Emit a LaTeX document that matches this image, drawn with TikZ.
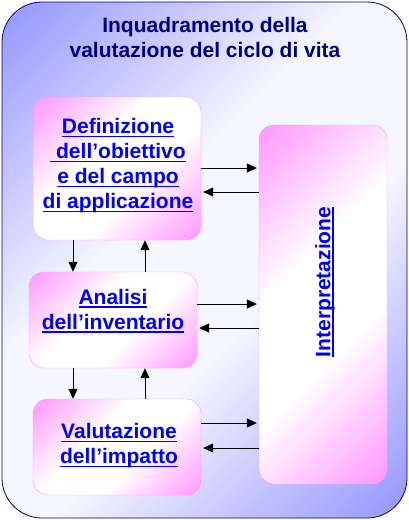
\documentclass[tikz,border=0pt]{standalone}
\usepackage{fontspec}
\setmainfont{Liberation Sans}
\usepackage{xcolor}
\usetikzlibrary{arrows.meta}

\definecolor{framblue}{RGB}{148,148,255}
\definecolor{framwhite}{RGB}{246,246,255}
\definecolor{boxpink}{RGB}{255,150,255}
\definecolor{navy}{RGB}{0,0,128}
\definecolor{linkblue}{RGB}{0,0,255}
\pgfdeclareverticalshading{framdiag}{100bp}{color(0bp)=(framblue); color(14.6bp)=(framblue);
  color(42bp)=(framwhite); color(58bp)=(framwhite); color(85.4bp)=(framblue); color(100bp)=(framblue)}
\pgfdeclareverticalshading{pinkdiag}{100bp}{color(0bp)=(boxpink); color(14.6bp)=(boxpink);
  color(41bp)=(white); color(59bp)=(white); color(85.4bp)=(boxpink); color(100bp)=(boxpink)}
\newcommand{\ulin}[1]{{\sbox0{#1}\rlap{\rule[-3.5pt]{\wd0}{1.8pt}}\usebox0}}

\begin{document}
\begin{tikzpicture}[x=1pt, y=-1pt,
  stage/.style={draw=boxpink, rounded corners=15pt, shading=pinkdiag, shading angle=45,
    minimum width=168pt, inner sep=0pt},
  stagetext/.style={text=linkblue, font=\fontsize{21}{25}\selectfont\bfseries, align=center},
  flow/.style={-{Triangle[length=10pt,width=9pt]}, line width=0.8pt, shorten >=2pt}]
\useasboundingbox (0,0) rectangle (409,520);

% Outer frame
\draw[navy, line width=0.8pt, rounded corners=40pt, shading=framdiag, shading angle=45]
  (2,2) rectangle (407,518);
\node[text=navy, font=\fontsize{21}{25}\selectfont\bfseries, align=center] (title) at (205,37)
  {Inquadramento della\\valutazione del ciclo di vita};

% Phases
\node[stage, minimum height=143pt] (def) at (117,168.5) {};
\node[stage, minimum height=96pt] (ana) at (113,320) {};
\node[stage, minimum height=96pt] (val) at (117,447) {};
\node[stage, minimum width=128pt, minimum height=359pt] (interp) at (323,304.5) {};

\node[stagetext] (deftxt) at (118,166) {\ulin{Definizione}\\\ulin{ dell'obiettivo}\\\ulin{e del campo}\\\ulin{di applicazione}};
\node[stagetext] (anatxt) at (113,311) {\ulin{Analisi}\\\ulin{dell'inventario}};
\node[stagetext] (valtxt) at (119,446) {\ulin{Valutazione}\\\ulin{dell'impatto}};
\node[stagetext, rotate=90] (interptxt) at (325,282) {\ulin{Interpretazione}};

% Links to the interpretation
\draw[flow] (def.east |- 0,168) -- (interp.west |- 0,168);
\draw[flow] (interp.west |- 0,192) -- (def.east |- 0,192);
\draw[flow] (ana.east |- 0,304) -- (interp.west |- 0,304);
\draw[flow] (interp.west |- 0,328) -- (ana.east |- 0,328);
\draw[flow] (val.east |- 0,423) -- (interp.west |- 0,423);
\draw[flow] (interp.west |- 0,448) -- (val.east |- 0,448);

% Links between phases
\draw[flow, shorten >=0pt] (def.south -| 73,0) -- (ana.north -| 73,0);
\draw[flow, shorten >=0pt] (ana.north -| 145,0) -- (def.south -| 145,0);
\draw[flow, shorten >=0pt] (ana.south -| 73,0) -- (val.north -| 73,0);
\draw[flow, shorten >=0pt] (val.north -| 145,0) -- (ana.south -| 145,0);
\end{tikzpicture}
\end{document}
